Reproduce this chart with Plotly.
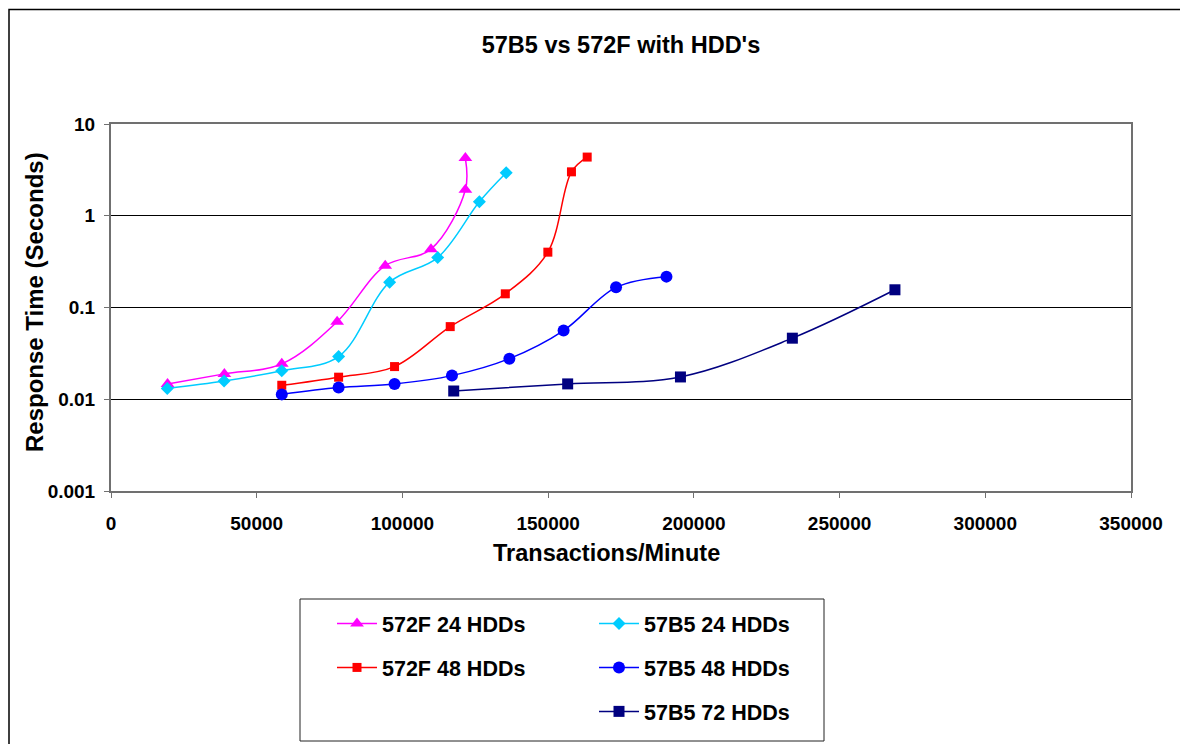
import plotly.graph_objects as go

# ---- data ----
x_572F_24 = [19400, 38900, 58600, 77600, 94100, 109800, 121600, 121600]
y_572F_24 = [0.0147, 0.0189, 0.0243, 0.070, 0.286, 0.432, 1.92, 4.25]

x_57B5_24 = [19300, 38800, 58600, 78100, 95600, 112100, 126400, 135600]
y_57B5_24 = [0.0131, 0.0158, 0.0205, 0.0292, 0.189, 0.350, 1.42, 2.94]

x_572F_48 = [58600, 78100, 97300, 116400, 135300, 149900, 158000, 163400]
y_572F_48 = [0.0142, 0.0174, 0.0227, 0.0619, 0.141, 0.401, 3.01, 4.36]

x_57B5_48 = [58600, 78100, 97300, 117000, 136700, 155300, 173300, 190600]
y_57B5_48 = [0.0113, 0.0134, 0.0147, 0.0181, 0.0277, 0.056, 0.166, 0.217]

x_57B5_72 = [117600, 156700, 195400, 233800, 269000]
y_57B5_72 = [0.0123, 0.0147, 0.0175, 0.0463, 0.156]

y_tickvals = [0.001, 0.01, 0.1, 1, 10]
y_ticktext = ["0.001", "0.01", "0.1", "1", "10"]
x_tickvals = [0, 50000, 100000, 150000, 200000, 250000, 300000, 350000]

title_text = "57B5 vs 572F with HDD's"
x_title = "Transactions/Minute"
y_title = "Response Time (Seconds)"

# ---- layout geometry (page pixels; the page body adds an 8px offset) ----
OFF = 8
W, H = 1188, 744
PL, PR, PT, PB = 111, 1131, 124, 491          # plot area edges in page pixels
ML, MR, MT, MB = PL - OFF, W - (PR - OFF), PT - OFF, H - (PB - OFF)
PW, PH = W - ML - MR, H - MT - MB


def px_x(p):
    return (p - PL) / PW


def px_y(p):
    return (PB - p) / PH


FONT = "Liberation Sans, Arial, sans-serif"

series = [
    ("572F 24 HDDs", x_572F_24, y_572F_24, "#FF00FF", "triangle-up", 12, "legend"),
    ("572F 48 HDDs", x_572F_48, y_572F_48, "#FF0000", "square", 9, "legend"),
    ("57B5 24 HDDs", x_57B5_24, y_57B5_24, "#00CCFF", "diamond", 10, "legend2"),
    ("57B5 48 HDDs", x_57B5_48, y_57B5_48, "#0000FF", "circle", 12, "legend2"),
    ("57B5 72 HDDs", x_57B5_72, y_57B5_72, "#000080", "square", 11, "legend2"),
]

fig = go.Figure()
for name, xs, ys, col, sym, sz, leg in series:
    fig.add_trace(go.Scatter(
        x=xs, y=ys, name=name, mode="lines+markers",
        line=dict(color=col, width=1.5, shape="spline", smoothing=1),
        marker=dict(color=col, symbol=sym, size=sz, line=dict(width=0)),
        legend=leg, legendgroup=name,
    ))

legend_common = dict(
    font=dict(family=FONT, size=21.5, color="black", weight="bold"),
    bgcolor="rgba(0,0,0,0)", borderwidth=0, orientation="v",
    xanchor="left", yanchor="top", tracegroupgap=13, itemwidth=40,
    traceorder="grouped",
)

TICKFONT = dict(family=FONT, size=19, color="black", weight="bold")

fig.update_layout(
    width=W, height=H,
    margin=dict(l=ML, r=MR, t=MT, b=MB, autoexpand=False),
    paper_bgcolor="white", plot_bgcolor="white",
    font=dict(family=FONT, size=19, color="black", weight="bold"),
    title=dict(text=title_text, xref="paper", x=px_x(621), xanchor="center",
               y=1 - (45 - OFF) / H, yanchor="middle",
               font=dict(family=FONT, size=23.5, color="black", weight="bold")),
    showlegend=True,
    legend=dict(x=px_x(332), y=px_y(603), **legend_common),
    legend2=dict(x=px_x(594), y=px_y(603), **legend_common),
    xaxis=dict(
        range=[0, 350000], tickvals=x_tickvals, tickformat="d",
        showgrid=False, zeroline=False,
        showline=True, linecolor="#707070", linewidth=2, mirror=True,
        ticks="outside", ticklen=5, tickcolor="#707070", tickwidth=1,
        ticklabelstandoff=9, tickfont=TICKFONT,
    ),
    yaxis=dict(
        type="log", range=[-3, 1], tickvals=y_tickvals, ticktext=y_ticktext,
        showgrid=True, gridcolor="black", gridwidth=1, zeroline=False,
        showline=True, linecolor="#707070", linewidth=2, mirror=True,
        ticks="outside", ticklen=5, tickcolor="#707070", tickwidth=1,
        ticklabelstandoff=5, tickfont=TICKFONT,
    ),
    annotations=[
        dict(text=x_title, xref="paper", yref="paper", x=px_x(606), y=px_y(553),
             xanchor="center", yanchor="middle", showarrow=False,
             font=dict(family=FONT, size=23.5, color="black", weight="bold")),
        dict(text=y_title, xref="paper", yref="paper", x=px_x(34), y=px_y(302),
             xanchor="center", yanchor="middle", showarrow=False, textangle=-90,
             font=dict(family=FONT, size=24, color="black", weight="bold")),
    ],
    shapes=[
        # outer chart frame
        dict(type="rect", xref="paper", yref="paper", x0=px_x(9), x1=px_x(1220),
             y0=px_y(780), y1=px_y(9.5), line=dict(color="black", width=1.5),
             fillcolor="rgba(0,0,0,0)", layer="above"),
        # legend box
        dict(type="rect", xref="paper", yref="paper", x0=px_x(300), x1=px_x(824),
             y0=px_y(741), y1=px_y(599), line=dict(color="#222222", width=1),
             fillcolor="rgba(0,0,0,0)", layer="above"),
    ],
)

fig.write_html("out.html")
